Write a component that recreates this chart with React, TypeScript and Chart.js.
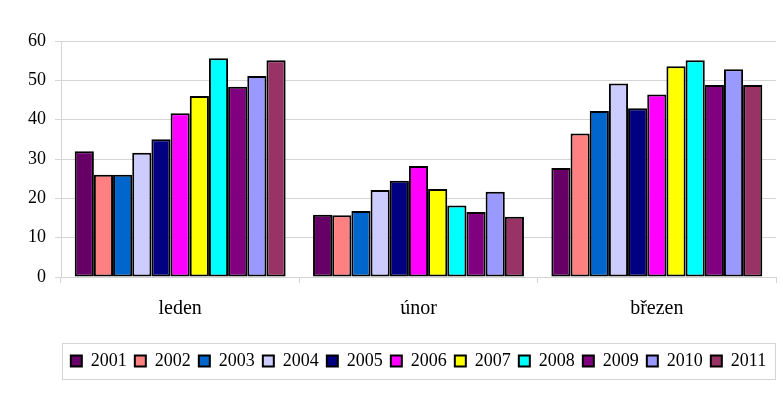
import React, { useEffect, useRef } from "react";
import { Chart, registerables } from "chart.js";

Chart.register(...registerables);

const categories = ["leden", "únor", "březen"];
const years = ["2001", "2002", "2003", "2004", "2005", "2006", "2007", "2008", "2009", "2010", "2011"];
const ledenValues = [32.0, 26.0, 26.0, 31.6, 35.0, 41.6, 46.0, 55.6, 48.4, 51.1, 55.1];
const unorValues = [15.8, 15.7, 16.8, 22.1, 24.5, 28.2, 22.4, 18.2, 16.5, 21.7, 15.3];
const brezenValues = [27.7, 36.5, 42.2, 49.2, 42.9, 46.4, 53.6, 55.1, 48.8, 52.8, 48.8];
const yearColors = ["#660066", "#FF8080", "#0066CC", "#CCCCFF", "#000080", "#FF00FF", "#FFFF00", "#00FFFF", "#800080", "#9999FF", "#993366"];
const yTicks = [0, 10, 20, 30, 40, 50, 60];

const FONT = "Liberation Serif";
const GRID = "#d4d4d4";

const legendBorder = {
  id: "legendBorder",
  afterDraw(chart: any) {
    const lg = chart.legend;
    if (!lg) return;
    const ctx = chart.ctx;
    ctx.save();
    ctx.strokeStyle = GRID;
    ctx.lineWidth = 1;
    ctx.strokeRect(Math.round(lg.left) + 1.5, Math.round(lg.top) - 0.5, Math.round(lg.width) - 2, 36);
    ctx.restore();
  },
};

export default function App() {
  const ref = useRef<HTMLCanvasElement | null>(null);

  useEffect(() => {
    if (!ref.current) return;
    const datasets = years.map((y, i) => ({
      label: y,
      data: [ledenValues[i], unorValues[i], brezenValues[i]],
      backgroundColor: yearColors[i],
      borderColor: "#000",
      borderWidth: 2,
      borderSkipped: false as const,
      barPercentage: 1.0,
      categoryPercentage: 0.885,
    }));
    Chart.defaults.font.family = FONT;
    const chart = new Chart(ref.current, {
      type: "bar",
      data: { labels: categories, datasets },
      options: {
        animation: false,
        responsive: false,
        devicePixelRatio: 1,
        layout: { padding: { top: 41, right: 6, bottom: 13, left: 0 } },
        plugins: {
          tooltip: { enabled: false },
          legend: {
            position: "bottom",
            fullSize: false,
            labels: {
              boxWidth: 11,
              boxHeight: 11,
              padding: 8,
              color: "#000",
              font: { family: FONT, size: 18 },
            },
          },
        },
        scales: {
          x: {
            offset: true,
            grid: {
              offset: true,
              drawOnChartArea: false,
              drawTicks: true,
              tickLength: 6,
              color: GRID,
            },
            border: { display: true, color: GRID },
            ticks: {
              color: "#000",
              padding: 14,
              font: { family: FONT, size: 20 },
            },
            afterFit(scale: any) {
              scale.height = 67;
            },
          },
          y: {
            min: 0,
            max: 60,
            afterBuildTicks(scale: any) {
              scale.ticks = yTicks.map((v) => ({ value: v }));
            },
            grid: { color: GRID, tickLength: 6 },
            border: { display: true, color: GRID },
            ticks: {
              color: "#000",
              padding: 9,
              font: { family: FONT, size: 18 },
            },
            afterFit(scale: any) {
              scale.width = 61;
            },
          },
        },
      },
      plugins: [legendBorder],
    });
    let alive = true;
    if ((document as any).fonts && (document as any).fonts.load) {
      Promise.all([
        (document as any).fonts.load("18px 'Liberation Serif'"),
        (document as any).fonts.load("20px 'Liberation Serif'"),
      ]).then(() => {
        if (alive) chart.update();
      });
    }
    return () => {
      alive = false;
      chart.destroy();
    };
  }, []);

  return (
    <div style={{ position: "absolute", left: 0, top: 0, width: 782, height: 393, background: "#fff" }}>
      <canvas ref={ref} width={782} height={393} style={{ display: "block" }} />
    </div>
  );
}
